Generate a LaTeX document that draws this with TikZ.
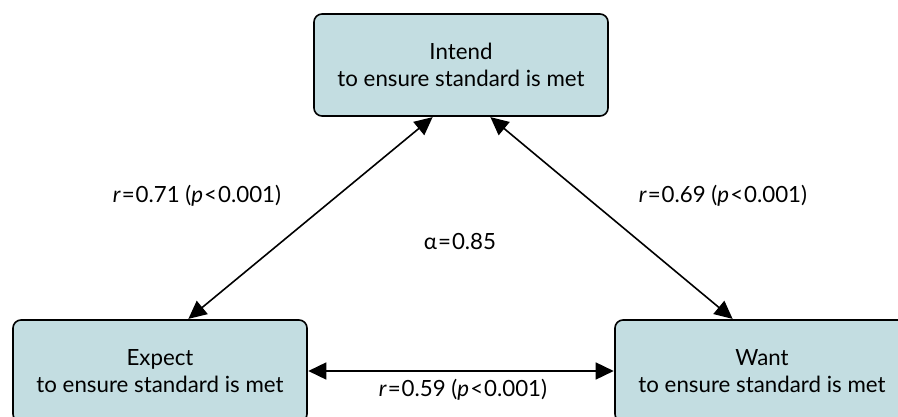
\documentclass[tikz,border=0pt]{standalone}
\usepackage{fontspec}
\setmainfont{Lato}
\usetikzlibrary{arrows.meta}
\definecolor{boxfill}{HTML}{C3DDE1}
\tikzset{
  varbox/.style={draw=black, line width=1.6pt, fill=boxfill, rounded corners=8pt,
    minimum width=294pt, minimum height=102pt, align=center, inner sep=0pt,
    font=\fontsize{22.3}{27}\selectfont},
  lbl/.style={font=\fontsize{22.3}{26}\selectfont, inner sep=0pt},
  dbl/.style={line width=1.6pt, {Triangle[length=18pt,width=17pt]}-{Triangle[length=18pt,width=17pt]}, shorten <=0.5pt, shorten >=0.5pt}
}
\newcommand{\rlab}[1]{\textit{r}\kern1pt=\kern1pt#1 (\textit{p}\kern1pt<\kern1pt0.001)}
\begin{document}
\begin{tikzpicture}[x=1pt,y=-1pt]
\useasboundingbox (0,0) rectangle (898,417);
\node[varbox] (intend) at (461,65) {\raisebox{-1.5pt}{\parbox{280pt}{\centering Intend\\to ensure standard is met}}};
\node[varbox] (expect) at (160,371) {\raisebox{-1.5pt}{\parbox{280pt}{\centering Expect\\to ensure standard is met}}};
\node[varbox] (want) at (762,371) {\raisebox{-1.5pt}{\parbox{280pt}{\centering Want\\to ensure standard is met}}};
\draw[dbl] ([xshift=-28pt]intend.south) -- ([xshift=28pt]expect.north);
\draw[dbl] ([xshift=29pt]intend.south) -- ([xshift=-29pt]want.north);
\draw[dbl] (expect.east) -- (want.west);
\node[lbl] (l1) at (197,196) {\rlab{0.71}};
\node[lbl] (l2) at (723,196) {\rlab{0.69}};
\node[lbl] (l3) at (463,390) {\rlab{0.59}};
\node[lbl] (alpha) at (460,242) {α\kern1pt=\kern1pt0.85};
\end{tikzpicture}
\end{document}
